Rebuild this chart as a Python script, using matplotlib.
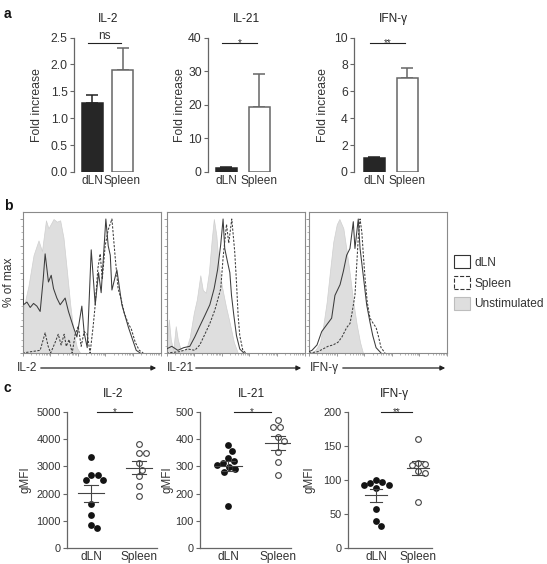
import numpy as np
import matplotlib.pyplot as plt
from matplotlib.patches import Patch, FancyArrowPatch

W, H = 547, 564

plt.rcParams['font.family'] = ['Liberation Sans', 'DejaVu Sans']
plt.rcParams['font.size'] = 8.6
plt.rcParams['text.color'] = '#222222'

groups = ['dLN', 'Spleen']
titles = ['IL-2', 'IL-21', 'IFN-γ']

# ---- panel a: fold increase (bar height, upper error) ----
fold_il2 = [1.29, 1.90]
fold_il2_err = [0.14, 0.40]
fold_il21 = [1.3, 19.4]
fold_il21_err = [0.25, 9.9]
fold_ifng = [1.05, 7.0]
fold_ifng_err = [0.10, 0.72]
fold_ticks_il2 = [0.0, 0.5, 1.0, 1.5, 2.0, 2.5]
fold_ticks_il21 = [0, 10, 20, 30, 40]
fold_ticks_ifng = [0, 2, 4, 6, 8, 10]
sig_a = ['ns', '*', '**']

# ---- panel b: histograms, channel (0-1000) vs % of max ----
il2_unstim_ch = [0, 43, 80, 116, 141, 170, 188, 225, 249, 273, 297, 322, 346, 370, 394, 418]
il2_unstim_pct = [30, 50, 73, 84, 76, 99, 93, 100, 98, 99, 86, 61, 36, 16, 4, 0]
il2_dln_ch = [0, 2, 7, 32, 56, 80, 104, 128, 150, 164, 188, 208, 225, 249, 273, 309, 333, 370,
              394, 430, 447, 469, 498, 527, 551, 570, 604, 621, 636, 648, 684, 720, 768, 824, 853]
il2_dln_pct = [69, 50, 36, 38, 34, 37, 35, 31, 55, 74, 53, 58, 48, 41, 36, 41, 31, 19,
               12, 35, 15, 4, 77, 36, 60, 45, 100, 80, 73, 47, 62, 36, 19, 2, 0]
il2_spleen_ch = [0, 128, 164, 186, 204, 237, 259, 280, 302, 317, 338, 360, 382, 404, 425, 447, 469, 490,
                 512, 527, 546, 563, 578, 599, 621, 648, 672, 693, 715, 737, 766, 788, 817, 846, 875]
il2_spleen_pct = [0, 2, 15, 5, 0, 8, 14, 6, 14, 5, 10, 0, 14, 20, 5, 16, 14, 0,
                  20, 36, 63, 74, 55, 80, 92, 100, 71, 48, 40, 30, 22, 18, 8, 2, 0]

il21_unstim_ch = [0, 17, 31, 49, 67, 82, 104, 140, 169, 198, 220, 245, 263, 285, 307, 328, 343, 361,
                  379, 401, 430, 459, 488, 517]
il21_unstim_pct = [5, 25, 10, 2, 20, 10, 2, 2, 12, 30, 40, 58, 47, 45, 60, 85, 100, 88,
                   65, 50, 35, 22, 8, 0]
il21_dln_ch = [0, 38, 82, 125, 169, 205, 241, 278, 314, 345, 370, 393, 410, 422, 442, 459, 471, 488,
               507, 531, 560]
il21_dln_pct = [3, 5, 2, 4, 5, 12, 20, 28, 36, 48, 62, 81, 100, 78, 68, 60, 43, 28, 13, 3, 0]
il21_spleen_ch = [0, 96, 154, 205, 241, 278, 314, 350, 372, 393, 410, 435, 451, 473, 494, 507, 519,
                  531, 553, 575]
il21_spleen_pct = [0, 1, 3, 2, 6, 14, 22, 32, 40, 48, 71, 96, 82, 100, 76, 53, 28, 13, 2, 0]

ifng_unstim_ch = [0, 36, 58, 80, 104, 128, 152, 176, 201, 220, 249, 273, 297, 321, 346, 370, 391]
ifng_unstim_pct = [0, 1, 4, 8, 21, 38, 61, 83, 96, 100, 93, 76, 58, 38, 21, 8, 0]
ifng_dln_ch = [0, 22, 58, 92, 128, 164, 188, 225, 249, 273, 297, 321, 333, 346, 357, 370, 393, 418,
               442, 462, 486, 522]
ifng_dln_pct = [1, 2, 6, 16, 21, 26, 43, 51, 61, 73, 78, 98, 78, 90, 100, 78, 58, 36, 23, 13, 4, 0]
ifng_spleen_ch = [0, 65, 101, 138, 174, 210, 239, 273, 297, 312, 333, 346, 357, 370, 383, 394, 406,
                  422, 442, 466, 486, 502, 522, 551]
ifng_spleen_pct = [0, 1, 3, 5, 6, 8, 12, 19, 22, 30, 43, 66, 86, 100, 90, 73, 56, 38, 26, 22, 19,
                   13, 4, 0]

hist_labels = ['dLN', 'Spleen', 'Unstimulated']

# ---- panel c: gMFI per mouse ----
gmfi_il2_dln = [3360, 2680, 2680, 2500, 2500, 1610, 1210, 840, 720]
gmfi_il2_spleen = [3840, 3500, 3500, 3110, 2880, 2630, 2280, 1900]
gmfi_il21_dln = [378, 357, 330, 320, 312, 306, 298, 290, 281, 155]
gmfi_il21_spleen = [470, 446, 446, 407, 393, 352, 315, 267]
gmfi_ifng_dln = [100, 97, 96, 93, 92, 88, 57, 39, 33]
gmfi_ifng_spleen = [161, 125, 124, 122, 113, 111, 67]
gmfi_ticks_il2 = [0, 1000, 2000, 3000, 4000, 5000]
gmfi_ticks_il21 = [0, 100, 200, 300, 400, 500]
gmfi_ticks_ifng = [0, 50, 100, 150, 200]
sig_c = ['*', '*', '**']

AX_COL = '#666666'
TXT_COL = '#333333'

fig = plt.figure(figsize=(W / 100, H / 100), dpi=100)


def add_ax(x0, y0, x1, y1):
    # axes from pixel box (y measured from top)
    return fig.add_axes([x0 / W, 1 - y1 / H, (x1 - x0) / W, (y1 - y0) / H])


def ftext(x, y, s, **kw):
    return fig.text(x / W, 1 - y / H, s, **kw)


def style_left(ax, ticksize):
    for s in ['top', 'right']:
        ax.spines[s].set_visible(False)
    ax.spines['left'].set_color(AX_COL)
    ax.spines['left'].set_linewidth(0.9)
    ax.spines['bottom'].set_color(AX_COL)
    ax.spines['bottom'].set_linewidth(0.9)
    ax.tick_params(axis='y', direction='out', length=3, width=0.8, color=AX_COL,
                   labelcolor=TXT_COL, labelsize=ticksize, pad=1.5)
    ax.tick_params(axis='x', length=0, labelcolor=TXT_COL, labelsize=8.6, pad=2)


def sig_mark(ax, x1, x2, y, s):
    ax.plot([x1, x2], [y, y], color='#222222', lw=0.8, clip_on=False)
    if s == 'ns':
        ax.annotate(s, ((x1 + x2) / 2, y), xytext=(0, 1), textcoords='offset points',
                    ha='center', va='bottom', fontsize=8.6, color=TXT_COL)
    else:
        ax.annotate(s, ((x1 + x2) / 2, y), xytext=(0, -2.5), textcoords='offset points',
                    ha='center', va='baseline', fontsize=7, color=TXT_COL)


# ================= panel a =================
a_spine = [74, 208, 354]
a_first = [92, 226, 374]
a_step = [30.5, 33, 33]
a_title_x = [108, 246, 393]
a_ylab_x = [37, 180, 323]
a_top, a_bot = 37.6, 172
fold_vals = [fold_il2, fold_il21, fold_ifng]
fold_errs = [fold_il2_err, fold_il21_err, fold_ifng_err]
fold_ticks = [fold_ticks_il2, fold_ticks_il21, fold_ticks_ifng]

for i in range(3):
    x0, step = a_spine[i], a_step[i]
    ax = add_ax(x0, a_top, x0 + 67, a_bot)
    lo = (x0 - a_first[i]) / step
    ax.set_xlim(lo, lo + 67 / step)
    ax.set_ylim(0, fold_ticks[i][-1])
    w = 21 / step
    vals, errs = fold_vals[i], fold_errs[i]
    ax.errorbar([0], [vals[0]], yerr=[[0], [errs[0]]], fmt='none', ecolor='#222222',
                elinewidth=1.1, capsize=4.3, capthick=1.1, zorder=1)
    ax.errorbar([1], [vals[1]], yerr=[[0], [errs[1]]], fmt='none', ecolor='#666666',
                elinewidth=1.1, capsize=4.3, capthick=1.1, zorder=1)
    ax.bar([0, 1], vals, width=w, color=['#262626', 'white'],
           edgecolor=['#262626', '#666666'], linewidth=1.1, zorder=2)
    style_left(ax, 8.8)
    ax.spines['bottom'].set_visible(False)
    ax.set_yticks(fold_ticks[i])
    if i == 0:
        ax.set_yticklabels(['%.1f' % t for t in fold_ticks[i]])
    ax.set_xticks([0, 1])
    ax.set_xticklabels(groups)
    top = fold_ticks[i][-1]
    sig_mark(ax, -0.12, 0.94, 0.96 * top, sig_a[i])
    ftext(a_title_x[i], 19, titles[i], ha='center', va='center', fontsize=8.6)
    ftext(a_ylab_x[i], (a_top + a_bot) / 2, 'Fold increase', rotation=90,
          ha='center', va='center', fontsize=8.8, color=TXT_COL)

# ================= panel b =================
hist_left = [22.5, 166.5, 309]
hist_w = 138
hist_top, hist_bot = 211.5, 353
unstim = [(il2_unstim_ch, il2_unstim_pct), (il21_unstim_ch, il21_unstim_pct),
          (ifng_unstim_ch, ifng_unstim_pct)]
dln = [(il2_dln_ch, il2_dln_pct), (il21_dln_ch, il21_dln_pct), (ifng_dln_ch, ifng_dln_pct)]
spleen = [(il2_spleen_ch, il2_spleen_pct), (il21_spleen_ch, il21_spleen_pct),
          (ifng_spleen_ch, ifng_spleen_pct)]
minor_x = [200 * np.log10(k * 10 ** n) for n in range(5) for k in range(2, 10)]

for i in range(3):
    x0 = hist_left[i]
    ax = add_ax(x0, hist_top, x0 + hist_w, hist_bot)
    ux, uy = unstim[i]
    ax.fill_between(ux, uy, color='#dedede', lw=0.5, edgecolor='#cfcfcf', zorder=1)
    ax.plot(*dln[i], color='#3c3c3c', lw=0.75, zorder=3)
    ax.plot(*spleen[i], color='#3c3c3c', lw=0.75, dashes=(2.2, 1.4), zorder=2)
    ax.set_xlim(0, 1000)
    ax.set_ylim(0, 105.6)
    for s in ax.spines.values():
        s.set_color('#8a8a8a')
        s.set_linewidth(0.8)
    ax.set_xticks([0, 200, 400, 600, 800, 1000])
    ax.set_xticks(minor_x, minor=True)
    ax.set_yticks(range(0, 101, 20))
    ax.set_yticks(range(0, 101, 5), minor=True)
    ax.tick_params(which='major', direction='out', length=2.2, width=0.6, color='#8a8a8a',
                   labelleft=False, labelbottom=False)
    ax.tick_params(which='minor', direction='out', length=1.2, width=0.5, color='#9a9a9a')

ftext(9, 282, '% of max', rotation=90, ha='center', va='center', fontsize=8.6, color=TXT_COL)

arrow_lbl_x = [17, 167, 310]
arrow_x = [(38, 159), (193, 304), (340, 448)]
for i in range(3):
    ftext(arrow_lbl_x[i], 368, titles[i], ha='left', va='center', fontsize=8.6, color=TXT_COL)
    a0, a1 = arrow_x[i]
    fig.add_artist(FancyArrowPatch((a0 / W, 1 - 368 / H), (a1 / W, 1 - 368 / H),
                                   transform=fig.transFigure, arrowstyle='-|>',
                                   mutation_scale=7, lw=0.9, color='#222222'))

handles = [Patch(facecolor='white', edgecolor='#333333', lw=0.8),
           Patch(facecolor='white', edgecolor='#333333', lw=0.8, linestyle='--'),
           Patch(facecolor='#dedede', edgecolor='#bdbdbd', lw=0.8)]
fig.legend(handles, hist_labels, loc='upper left', bbox_to_anchor=(448 / W, 1 - 249 / H),
           frameon=False, handlelength=1.3, handleheight=1.35, labelspacing=0.6,
           handletextpad=0.4, borderpad=0, fontsize=8.6, labelcolor=TXT_COL)

# ================= panel c =================
c_spine = [67, 200, 348]
c_first = [91, 228, 376]
c_step = [48, 50, 42]
c_right = [157, 291, 432]
c_title_x = [113, 251, 394]
c_ylab_x = [25, 167, 310]
c_top, c_bot = 412, 548
gmfi_dln = [gmfi_il2_dln, gmfi_il21_dln, gmfi_ifng_dln]
gmfi_spleen = [gmfi_il2_spleen, gmfi_il21_spleen, gmfi_ifng_spleen]
gmfi_ticks = [gmfi_ticks_il2, gmfi_ticks_il21, gmfi_ticks_ifng]


def swarm(vals, ypx, d):
    # simple beeswarm: pixel offsets so that dots do not overlap
    order = np.argsort(vals)[::-1]
    placed = []
    offs = np.zeros(len(vals))
    for j in order:
        y = vals[j] * ypx
        cands = [0.0]
        for px, py in placed:
            dy = y - py
            if abs(dy) < d:
                dx = np.sqrt(d ** 2 - dy ** 2)
                cands += [px + dx, px - dx]
        cands.sort(key=abs)
        for c in cands:
            if all((c - px) ** 2 + (y - py) ** 2 >= d ** 2 - 1e-6 for px, py in placed):
                offs[j] = c
                placed.append((c, y))
                break
    return offs


for i in range(3):
    x0, step = c_spine[i], c_step[i]
    ax = add_ax(x0, c_top, c_right[i], c_bot)
    lo = (x0 - c_first[i]) / step
    ax.set_xlim(lo, lo + (c_right[i] - x0) / step)
    ymax = gmfi_ticks[i][-1]
    ax.set_ylim(0, ymax)
    ypx = (c_bot - c_top) / ymax
    for k, (vals, filled) in enumerate([(gmfi_dln[i], True), (gmfi_spleen[i], False)]):
        v = np.array(vals, dtype=float)
        xs = k + swarm(v, ypx, 6.8) / step
        if filled:
            ax.scatter(xs, v, s=24, color='#141414', lw=0, zorder=3, clip_on=False)
        else:
            ax.scatter(xs, v, s=17, facecolor='white', edgecolor='#444444', lw=0.8,
                       zorder=3, clip_on=False)
        m = v.mean()
        sem = v.std(ddof=1) / np.sqrt(len(v))
        ax.plot([k - 0.27, k + 0.27], [m, m], color='#444444', lw=0.8, zorder=4)
        ax.plot([k, k], [m - sem, m + sem], color='#444444', lw=0.8, zorder=4)
        for e in (m - sem, m + sem):
            ax.plot([k - 0.14, k + 0.14], [e, e], color='#444444', lw=0.8, zorder=4)
    style_left(ax, 7.9)
    ax.set_yticks(gmfi_ticks[i])
    ax.set_xticks([0, 1])
    ax.set_xticklabels(groups)
    sig_mark(ax, 0.12, 0.85, ymax, sig_c[i])
    ftext(c_title_x[i], 394, titles[i], ha='center', va='center', fontsize=8.6)
    ftext(c_ylab_x[i], (c_top + c_bot) / 2, 'gMFI', rotation=90,
          ha='center', va='center', fontsize=8.4, color=TXT_COL)

for lbl, y in [('a', 14), ('b', 206), ('c', 388)]:
    ftext(4, y, lbl, ha='left', va='center', fontsize=10, fontweight='bold', color='#111111')

fig.savefig('out.png', dpi=100)
